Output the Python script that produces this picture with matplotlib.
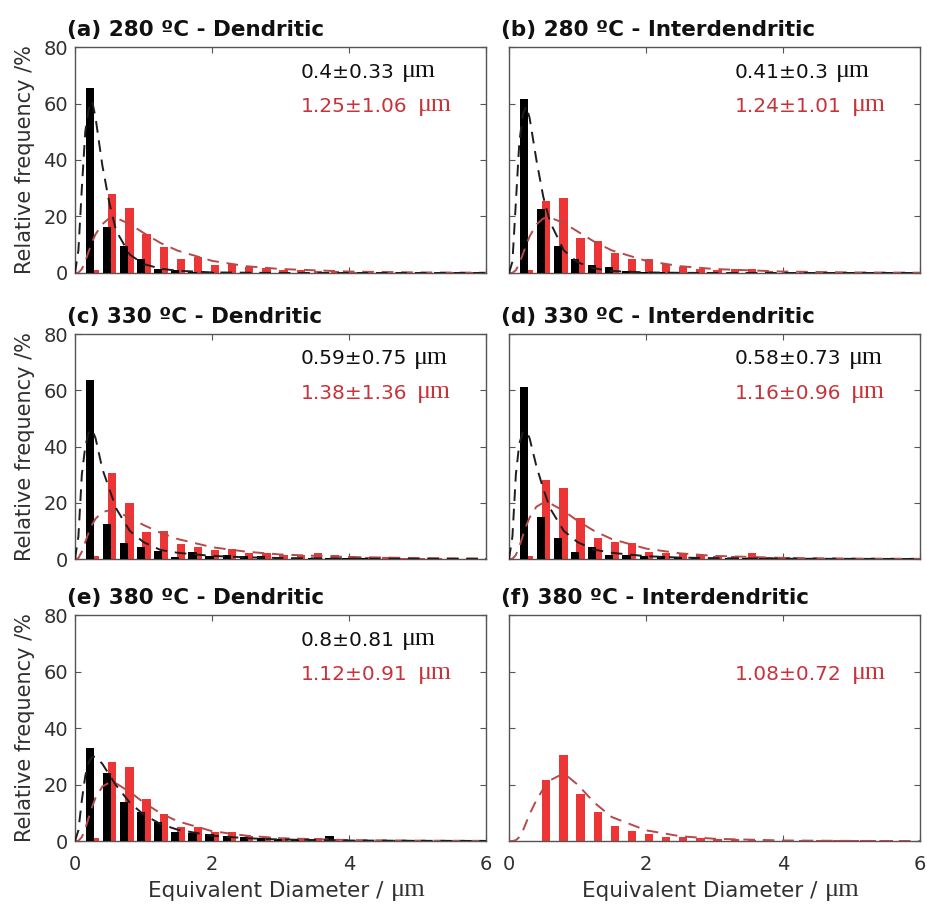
import matplotlib
matplotlib.use("Agg")
import matplotlib.pyplot as plt

plt.rcParams['font.family'] = ['DejaVu Sans']

# ---------------- data ----------------
bin_centers = [0.25, 0.5, 0.75, 1.0, 1.25, 1.5, 1.75, 2.0, 2.25, 2.5, 2.75, 3.0,
               3.25, 3.5, 3.75, 4.0, 4.25, 4.5, 4.75, 5.0, 5.25, 5.5, 5.75, 6.0]

titles = ["(a) 280 ºC - Dendritic", "(b) 280 ºC - Interdendritic",
          "(c) 330 ºC - Dendritic", "(d) 330 ºC - Interdendritic",
          "(e) 380 ºC - Dendritic", "(f) 380 ºC - Interdendritic"]

stats_black = ["0.4±0.33", "0.41±0.3", "0.59±0.75", "0.58±0.73", "0.8±0.81", None]
stats_red = ["1.25±1.06", "1.24±1.01", "1.38±1.36", "1.16±0.96", "1.12±0.91", "1.08±0.72"]
unit = "μm"
x_label = "Equivalent Diameter /"
y_label = "Relative frequency /%"

black_a = [65.4, 16.4, 9.7, 5.0, 1.4, 1.2, 0.5, 0.3, 0.2, 0.2, 0.1, 0.1, 0.1, 0, 0, 0, 0, 0, 0, 0, 0, 0, 0, 0]
red_a = [1.0, 28.0, 22.9, 13.7, 9.3, 5.0, 5.5, 2.8, 3.2, 2.0, 1.8, 1.2, 1.0, 0.8, 0.6, 0.5, 0.5, 0.4, 0.3, 0.3, 0.3, 0.3, 0.3, 0.3]
black_b = [61.5, 22.5, 9.6, 4.8, 3.0, 2.0, 0.7, 0.3, 0.2, 0.1, 0.1, 0, 0, 0, 0, 0, 0, 0, 0, 0, 0, 0, 0, 0]
red_b = [1.0, 25.6, 26.4, 12.3, 11.3, 7.2, 5.0, 4.8, 3.3, 2.0, 1.5, 1.2, 1.3, 1.5, 0.6, 0.5, 0.4, 0.4, 0.3, 0.3, 0.3, 0.3, 0.3, 0.3]
black_c = [63.6, 12.3, 5.6, 4.2, 3.0, 0.8, 2.4, 0.9, 1.3, 0.9, 0.9, 0.5, 0.3, 0.3, 0.3, 0.2, 0.2, 0.1, 0.1, 0.1, 0, 0, 0, 0]
red_c = [1.0, 30.7, 19.8, 9.7, 10.0, 5.2, 4.1, 3.2, 3.6, 2.3, 2.0, 1.5, 1.6, 2.0, 1.5, 1.0, 0.8, 0.6, 0.5, 0.5, 0.4, 0.4, 0.3, 0.3]
black_d = [61.0, 15.0, 7.3, 2.4, 4.4, 1.5, 1.5, 1.2, 1.0, 0.7, 0.5, 0.4, 0.3, 0.3, 0.2, 0.2, 0.1, 0.1, 0.1, 0, 0, 0, 0, 0]
red_d = [1.0, 28.1, 25.4, 14.5, 7.3, 5.9, 5.6, 2.6, 2.3, 1.7, 1.5, 1.2, 1.0, 2.2, 0.8, 0.6, 0.5, 0.5, 0.4, 0.3, 0.3, 0.3, 0.3, 0.3]
black_e = [33.0, 24.0, 13.9, 10.2, 6.6, 3.1, 2.7, 2.4, 1.8, 1.5, 1.2, 0.8, 0.6, 0.6, 1.8, 0.3, 0.3, 0.2, 0.2, 0.2, 0.1, 0.1, 0.1, 0.1]
red_e = [1.0, 28.1, 26.3, 14.9, 9.4, 5.1, 4.9, 3.3, 3.1, 1.8, 1.5, 1.2, 1.0, 1.0, 0.6, 0.5, 0.4, 0.4, 0.3, 0.3, 0.3, 0.3, 0.3, 0.3]
red_f = [0, 21.6, 30.3, 16.5, 10.4, 5.4, 3.5, 2.4, 1.6, 1.3, 1.0, 0.8, 0.6, 0.5, 0.4, 0.4, 0.3, 0.3, 0.3, 0.3, 0.3, 0.3, 0.3, 0.3]

fit_x = [0, 0.05, 0.1, 0.15, 0.2, 0.25, 0.3, 0.4, 0.5, 0.6, 0.8, 1.0, 1.25, 1.5, 2.0, 2.5, 3.0, 4.0, 5.0, 6.0]
fit_black_a = [0, 8, 30, 50, 58, 61, 55, 38, 25, 15, 6.5, 3.2, 1.5, 0.8, 0.2, 0.1, 0, 0, 0, 0]
fit_red_a = [0, 0.1, 1.4, 4.1, 7.6, 11, 13.7, 17.3, 19.4, 19.5, 17.3, 14.2, 10.6, 7.9, 4.3, 2.4, 1.4, 0.5, 0.2, 0.1]
fit_black_b = [0, 4, 25, 46, 56, 59, 55, 40, 27, 18, 8, 3.8, 1.6, 0.7, 0.2, 0.05, 0, 0, 0, 0]
fit_red_b = [0, 0.05, 1.0, 3.3, 6.5, 9.9, 12.9, 17.2, 19.3, 19.6, 17.7, 14.7, 11.0, 8.0, 4.3, 2.4, 1.4, 0.5, 0.2, 0.1]
fit_black_c = [0, 8, 30, 40, 45, 46, 43, 32, 25, 18, 10, 6, 3.2, 2.2, 1.1, 0.6, 0.35, 0.13, 0.05, 0.02]
fit_red_c = [0, 0.35, 2.6, 6.0, 9.4, 12.2, 14.3, 16.7, 17.3, 16.9, 14.7, 12.1, 9.3, 7.1, 4.2, 2.6, 1.6, 0.7, 0.34, 0.18]
fit_black_d = [0, 8, 30, 41, 45, 45.5, 43, 33, 25, 18, 10, 6, 3.3, 2.2, 1.0, 0.5, 0.3, 0.1, 0.05, 0]
fit_red_d = [0, 0.1, 1.4, 4.4, 8.1, 11.7, 14.7, 18.6, 20.0, 19.8, 17.1, 13.6, 9.9, 7.1, 3.7, 2.0, 1.1, 0.4, 0.16, 0.07]
fit_black_e = [0, 3.8, 14.4, 23, 27.9, 29.8, 29.9, 27.3, 23.5, 19.7, 13.6, 9.4, 6.0, 4.0, 1.9, 1.0, 0.54, 0.19, 0.08, 0.03]
fit_red_e = [0, 0.1, 1.4, 4.4, 8.3, 12.1, 15.3, 19.3, 20.7, 20.4, 17.4, 13.7, 9.8, 7.0, 3.5, 1.9, 1.0, 0.35, 0.14, 0.06]
fit_red_f = [0, 0, 0.3, 1.4, 3.5, 6.5, 9.5, 14.5, 18.5, 21.5, 24, 20, 13.5, 8.5, 3.8, 1.7, 0.8, 0.2, 0.05, 0]

black_bars = [black_a, black_b, black_c, black_d, black_e, None]
red_bars = [red_a, red_b, red_c, red_d, red_e, red_f]
black_fits = [fit_black_a, fit_black_b, fit_black_c, fit_black_d, fit_black_e, None]
red_fits = [fit_red_a, fit_red_b, fit_red_c, fit_red_d, fit_red_e, fit_red_f]

x_ticks = [0, 2, 4, 6]
y_ticks = [0, 20, 40, 60, 80]

# ---------------- style ----------------
RED_BAR = "#ee3535"
RED_FIT = "#b54a4a"
BLACK_FIT = "#1e1e1e"
SPINE = "#555555"
TICKLBL = "#303030"
RED_TXT = "#c8333a"
SERIF = ['Liberation Serif', 'DejaVu Serif']

fig = plt.figure(figsize=(9.28, 9.06), dpi=100)

col_x = [0.0808, 0.5485]
col_w = 0.4429
rows = [(0.6987, 0.2494), (0.3830, 0.2483), (0.0717, 0.2494)]


def add_unit(ax, txt, color, size, base_size, gap=5):
    # place the serif unit on the same baseline as the preceding sans text
    ax.annotate(unit, xy=(1, 0), xycoords=txt, xytext=(gap, 0.236 * base_size),
                textcoords='offset points', fontsize=size, family=SERIF,
                color=color, ha='left', va='baseline')


for i in range(6):
    r, c = divmod(i, 2)
    ax = fig.add_axes([col_x[c], rows[r][0], col_w, rows[r][1]])
    ax.set_xlim(0, 6)
    ax.set_ylim(0, 80)

    rb = red_bars[i]
    ax.bar([b + 0.045 for b in bin_centers], rb, width=0.12, color=RED_BAR,
           edgecolor='none', zorder=2)
    bb = black_bars[i]
    if bb is not None:
        ax.bar([b - 0.035 for b in bin_centers], bb, width=0.12, color='black',
               edgecolor='none', zorder=3)
    ax.plot(fit_x, red_fits[i], color=RED_FIT, lw=1.4, ls=(0, (6, 4)), zorder=4)
    if black_fits[i] is not None:
        ax.plot(fit_x, black_fits[i], color=BLACK_FIT, lw=1.4, ls=(0, (6, 4)), zorder=5)

    ax.set_xticks(x_ticks)
    ax.set_yticks(y_ticks)
    ax.tick_params(direction='in', top=True, right=True, length=4, width=0.8,
                   color=SPINE, labelcolor=TICKLBL, labelsize=14)
    ax.tick_params(axis='x', pad=10)
    ax.tick_params(axis='y', pad=5)
    for s in ax.spines.values():
        s.set_color(SPINE)
        s.set_linewidth(1.0)

    if c == 0:
        ax.set_ylabel(y_label, fontsize=15, color="#303030")
        ax.yaxis.set_label_coords(-0.097, 0.5)
    else:
        ax.tick_params(labelleft=False)
    if r == 2:
        xl = ax.text(0.5 - 0.035, -0.175, x_label, transform=ax.transAxes,
                     fontsize=15.5, color="#303030", ha='center', va='top')
        add_unit(ax, xl, "#303030", 19, 15.5)
    else:
        ax.tick_params(labelbottom=False)

    ax.text(-0.02, 1.048, titles[i], transform=ax.transAxes, fontsize=15.5,
            fontweight='bold', color='#111111', ha='left', va='baseline')

    if stats_black[i] is not None:
        tb = ax.text(0.55, 0.865, stats_black[i], transform=ax.transAxes,
                     fontsize=14.5, color='#111111', ha='left', va='baseline')
        add_unit(ax, tb, '#111111', 18.5, 14.5)
    tr = ax.text(0.55, 0.713, stats_red[i], transform=ax.transAxes,
                 fontsize=14.5, color=RED_TXT, ha='left', va='baseline')
    add_unit(ax, tr, RED_TXT, 18.5, 14.5, gap=7)

fig.savefig("out.png", dpi=100)
